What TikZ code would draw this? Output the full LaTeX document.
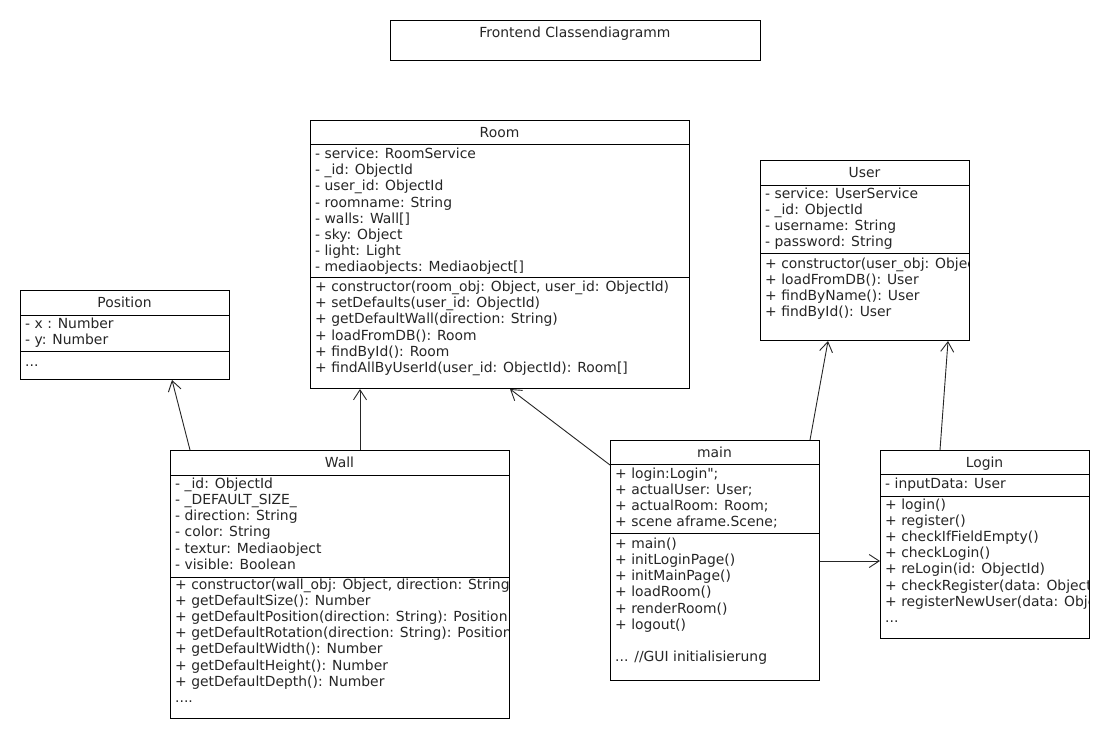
\documentclass[tikz,border=0pt]{standalone}
\usepackage{fontspec}
\newfontfamily\cfam{DejaVu Sans}
\usetikzlibrary{arrows.meta}
\newcommand\cfont{\cfam\fontsize{13.9}{16}\selectfont}
\newcommand\classlines[4]{%
  \foreach \t [count=\i] in {#4} {
    \node[txt] (#1\i) at (#2, {#3+16.2*(\i-1)}) {\t};
  }}
\tikzset{
  box/.style={draw, line width=1pt, inner sep=0pt, anchor=north west},
  txt/.style={anchor=base west, inner sep=0pt, font=\cfont, text=black!85},
  hdr/.style={anchor=base, inner sep=0pt, font=\cfont, text=black!85},
  sep/.style={line width=1pt},
  arr/.style={-{Straight Barb[length=10pt,width=13pt]}, line width=0.9pt, black!85}
}
\begin{document}
\begin{tikzpicture}[x=1pt,y=-1pt]
\useasboundingbox (0,0) rectangle (1110,740);
\fill[white] (0,0) rectangle (1110,740);

% Title
\node[box, minimum width=370pt, minimum height=40pt] (title) at (390,20) {};
\node[hdr] (titletxt) at (575,37) {Frontend Classendiagramm};

% Room
\node[box, minimum width=379pt, minimum height=268pt] (room) at (310,120) {};
\draw[sep] ([yshift=-24pt]room.north west) -- ([yshift=-24pt]room.north east);
\draw[sep] ([yshift=-157pt]room.north west) -- ([yshift=-157pt]room.north east);
\node[hdr] (roomh) at (499.5,137.7) {Room};
\classlines{roomA}{315}{158.5}{{- service: RoomService},{- \_id: ObjectId},{- user\_id: ObjectId},{- roomname: String},{- walls: Wall[]},{- sky: Object},{- light: Light},{- mediaobjects: Mediaobject[]}}
\classlines{roomM}{315}{291.5}{{+ constructor(room\_obj: Object, user\_id: ObjectId)},{+ setDefaults(user\_id: ObjectId)},{+ getDefaultWall(direction: String)},{+ loadFromDB(): Room},{+ findById(): Room},{+ findAllByUserId(user\_id: ObjectId): Room[]}}

% User
\node[box, minimum width=209pt, minimum height=180pt] (user) at (760,160) {};
\draw[sep] ([yshift=-25pt]user.north west) -- ([yshift=-25pt]user.north east);
\draw[sep] ([yshift=-93pt]user.north west) -- ([yshift=-93pt]user.north east);
\node[hdr] (userh) at (864.5,177.7) {User};
\begin{scope}
\clip (760,160) rectangle (968,340);
\classlines{userA}{765}{198.3}{{- service: UserService},{- \_id: ObjectId},{- username: String},{- password: String}}
\classlines{userM}{765}{268.3}{{+ constructor(user\_obj: Object)},{+ loadFromDB(): User},{+ findByName(): User},{+ findById(): User}}
\end{scope}

% Position
\node[box, minimum width=209pt, minimum height=89pt] (position) at (20,290) {};
\draw[sep] ([yshift=-25pt]position.north west) -- ([yshift=-25pt]position.north east);
\draw[sep] ([yshift=-61pt]position.north west) -- ([yshift=-61pt]position.north east);
\node[hdr] (positionh) at (124.5,307.7) {Position};
\classlines{posA}{25}{328.3}{{- x : Number},{- y: Number}}
\node[txt] (posM1) at (25,366) {...};

% Wall
\node[box, minimum width=339pt, minimum height=268pt] (wall) at (170,450) {};
\draw[sep] ([yshift=-25pt]wall.north west) -- ([yshift=-25pt]wall.north east);
\draw[sep] ([yshift=-127pt]wall.north west) -- ([yshift=-127pt]wall.north east);
\node[hdr] (wallh) at (339.5,467.7) {Wall};
\begin{scope}
\clip (170,450) rectangle (508,718);
\classlines{wallA}{175}{488.3}{{- \_id: ObjectId},{- \_DEFAULT\_SIZE\_},{- direction: String},{- color: String},{- textur: Mediaobject},{- visible: Boolean}}
\classlines{wallM}{175}{589}{{+ constructor(wall\_obj: Object, direction: String)},{+ getDefaultSize(): Number},{+ getDefaultPosition(direction: String): Position},{+ getDefaultRotation(direction: String): Position},{+ getDefaultWidth(): Number},{+ getDefaultHeight(): Number},{+ getDefaultDepth(): Number}}
\node[txt] (wallM8) at (175,{589+16.2*7}) {....};
\end{scope}

% main
\node[box, minimum width=209pt, minimum height=240pt] (main) at (610,440) {};
\draw[sep] ([yshift=-24pt]main.north west) -- ([yshift=-24pt]main.north east);
\draw[sep] ([yshift=-93pt]main.north west) -- ([yshift=-93pt]main.north east);
\node[hdr] (mainh) at (714.5,457.7) {main};
\classlines{mainA}{615}{478.3}{{+ login:Login";},{+ actualUser: User;},{+ actualRoom: Room;},{+ scene aframe.Scene;}}
\classlines{mainM}{615}{548.3}{{+ main()},{+ initLoginPage()},{+ initMainPage()},{+ loadRoom()},{+ renderRoom()},{+ logout()}}
\node[txt] (mainGUI) at (615,661.7) {... //GUI initialisierung};

% Login
\node[box, minimum width=209pt, minimum height=188pt] (login) at (880,450) {};
\draw[sep] ([yshift=-24pt]login.north west) -- ([yshift=-24pt]login.north east);
\draw[sep] ([yshift=-46pt]login.north west) -- ([yshift=-46pt]login.north east);
\node[hdr] (loginh) at (984.5,467.7) {Login};
\begin{scope}
\clip (880,450) rectangle (1088,638);
\classlines{loginA}{885}{488.3}{{- inputData: User}}
\classlines{loginM}{885}{509}{{+ login()},{+ register()},{+ checkIfFieldEmpty()},{+ checkLogin()},{+ reLogin(id: ObjectId)},{+ checkRegister(data: Object)},{+ registerNewUser(data: Object)}}
\node[txt] (loginM8) at (885,{509+16.2*7}) {...};
\end{scope}

% Connectors
\draw[arr] ([xshift=20pt]wall.north west) -- ([xshift=152pt]position.south west);
\draw[arr] ([xshift=190pt]wall.north west) -- ([xshift=50pt]room.south west);
\draw[arr] ([yshift=-25pt]main.north west) -- ([xshift=200pt]room.south west);
\draw[arr] ([xshift=200pt]main.north west) -- ([xshift=68pt]user.south west);
\draw[arr] ([xshift=60pt]login.north west) -- ([xshift=188pt]user.south west);
\draw[arr] ([yshift=-121pt]main.north east) -- ([yshift=-111pt]login.north west);
\end{tikzpicture}
\end{document}
